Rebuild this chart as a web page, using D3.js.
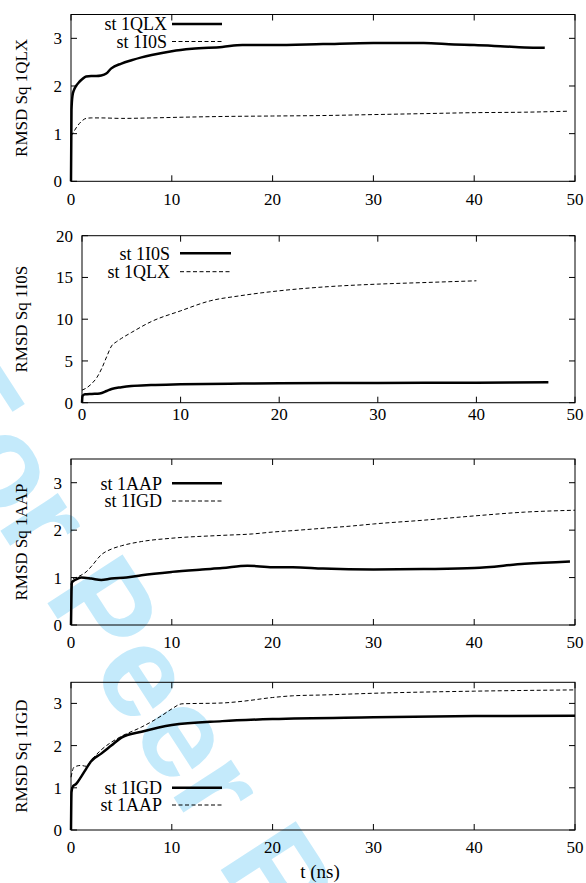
<!DOCTYPE html>
<html lang="en">
<head>
    <meta charset="UTF-8">
    <title>RMSD Sq</title>
    <script src="https://cdn.jsdelivr.net/npm/d3@7"></script>
    <style>
        body { margin: 0; background: #fff; }
        text { fill: #000; }
        .frame { fill: none; stroke: #000; stroke-width: 1px; }
        .tick { stroke: #000; stroke-width: 1px; }
        .solid { fill: none; stroke: #000; stroke-width: 2.5px; }
        .dashed { fill: none; stroke: #000; stroke-width: 1px; stroke-dasharray: 4, 2.5; }
        .wm { fill: #c4eafb; }
    </style>
</head>
<body>
<script>
    // x ticks shared by all panels
    var xTicks = [0, 10, 20, 30, 40, 50];

    // panel 1: RMSD Sq 1QLX
    var p1Labels = ["st 1QLX", "st 1I0S"];
    var p1Yticks = [0, 1, 2, 3];
    var p1SolidT = [0, 0.05, 0.15, 0.3, 0.5, 0.8, 1.1, 1.5, 2, 2.5, 3, 3.5, 4, 5, 6, 7, 8, 10, 12, 15, 17, 20, 25, 30, 33, 35, 38, 40, 43, 45, 47];
    var p1SolidV = [0, 1.5, 1.8, 1.92, 2.0, 2.08, 2.14, 2.2, 2.21, 2.21, 2.22, 2.26, 2.37, 2.47, 2.54, 2.6, 2.65, 2.73, 2.78, 2.82, 2.86, 2.86, 2.88, 2.9, 2.9, 2.9, 2.87, 2.86, 2.83, 2.81, 2.8];
    var p1DashT = [0, 0.3, 0.6, 1.0, 1.5, 2, 3, 5, 8, 10, 15, 20, 25, 30, 35, 40, 45, 49.2];
    var p1DashV = [0.95, 1.05, 1.15, 1.25, 1.32, 1.33, 1.33, 1.32, 1.33, 1.34, 1.36, 1.37, 1.38, 1.4, 1.42, 1.44, 1.45, 1.47];

    // panel 2: RMSD Sq 1I0S
    var p2Labels = ["st 1I0S", "st 1QLX"];
    var p2Yticks = [0, 5, 10, 15, 20];
    var p2SolidT = [0, 0.05, 0.3, 1, 1.8, 2.5, 3, 4, 5, 7, 10, 15, 20, 30, 40, 47.3];
    var p2SolidV = [0, 0.8, 1.0, 1.05, 1.1, 1.4, 1.64, 1.85, 2.0, 2.12, 2.2, 2.28, 2.32, 2.36, 2.4, 2.44];
    var p2DashT = [0, 0.5, 1, 1.5, 2, 2.5, 3, 3.5, 4, 5, 7, 10, 13, 16, 20, 25, 30, 35, 40];
    var p2DashV = [1.5, 1.8, 2.3, 3.0, 4.1, 5.5, 6.8, 7.3, 7.7, 8.4, 9.7, 11.0, 12.2, 12.8, 13.4, 13.9, 14.2, 14.4, 14.6];

    // panel 3: RMSD Sq 1AAP
    var p3Labels = ["st 1AAP", "st 1IGD"];
    var p3Yticks = [0, 1, 2, 3];
    var p3SolidT = [0, 0.05, 0.1, 0.5, 1, 2, 3, 4, 5.5, 7, 10, 13, 15, 17.5, 20, 22, 25, 30, 35, 40, 45, 49.5];
    var p3SolidV = [0, 0.7, 0.9, 0.96, 1.0, 0.98, 0.95, 0.98, 1.0, 1.05, 1.12, 1.17, 1.2, 1.25, 1.22, 1.22, 1.19, 1.17, 1.18, 1.2, 1.29, 1.34];
    var p3DashT = [0, 0.2, 0.5, 1, 1.5, 2, 3, 4, 5, 7, 10, 15, 18, 20, 22, 25, 28, 30, 35, 40, 45, 50];
    var p3DashV = [0.85, 0.98, 1.0, 1.05, 1.12, 1.23, 1.48, 1.6, 1.67, 1.76, 1.83, 1.89, 1.92, 1.96, 1.99, 2.04, 2.09, 2.13, 2.21, 2.3, 2.38, 2.42];

    // panel 4: RMSD Sq 1IGD
    var p4Labels = ["st 1IGD", "st 1AAP"];
    var p4Yticks = [0, 1, 2, 3];
    var p4SolidT = [0, 0.05, 0.2, 0.5, 1, 1.5, 2, 3, 4, 5, 7, 10, 15, 20, 30, 40, 50];
    var p4SolidV = [0, 0.9, 1.04, 1.09, 1.26, 1.45, 1.63, 1.81, 2.0, 2.19, 2.33, 2.49, 2.58, 2.63, 2.67, 2.7, 2.71];
    var p4DashT = [0, 0.3, 1, 1.5, 2, 3, 4, 5, 7, 9, 10, 11, 15, 17, 20, 22, 25, 30, 40, 50];
    var p4DashV = [1.25, 1.49, 1.53, 1.51, 1.65, 1.9, 2.08, 2.22, 2.44, 2.71, 2.87, 2.99, 3.01, 3.05, 3.14, 3.18, 3.2, 3.24, 3.29, 3.32];

    var width = 586;
    var height = 883;
    var serif = "'Liberation Serif', 'Times New Roman', 'DejaVu Serif', serif";

    var svg = d3.select("body")
            .append("svg")
            .attr("width", width)
            .attr("height", height)
            .attr("font-family", serif);

    // watermark behind everything
    svg.append("text")
            .attr("class", "wm")
            .attr("transform", "translate(-91,390) rotate(57)")
            .attr("font-family", "'Liberation Sans', Arial, sans-serif")
            .attr("font-weight", "bold")
            .attr("font-size", 130)
            .text("For Peer Review");

    function zip(t, v) {
        return t.map(function (d, i) { return [d, v[i]]; });
    }

    var panels = [
        {title: "RMSD Sq 1QLX", labels: p1Labels, yTicks: p1Yticks, yMax: 3.5,
            solid: zip(p1SolidT, p1SolidV), dash: zip(p1DashT, p1DashV),
            left: 71, right: 575, top: 14.5, bottom: 181.3, xlOff: 18, legX: 167, legLine: [172, 222], legY: [24, 41.5]},
        {title: "RMSD Sq 1I0S", labels: p2Labels, yTicks: p2Yticks, yMax: 20,
            solid: zip(p2SolidT, p2SolidV), dash: zip(p2DashT, p2DashV),
            left: 82, right: 575, top: 235.7, bottom: 402.7, xlOff: 11, legX: 170, legLine: [180, 231], legY: [253.3, 271.7]},
        {title: "RMSD Sq 1AAP", labels: p3Labels, yTicks: p3Yticks, yMax: 3.5,
            solid: zip(p3SolidT, p3SolidV), dash: zip(p3DashT, p3DashV),
            left: 71, right: 575, top: 459, bottom: 625, xlOff: 17, legX: 162, legLine: [172, 222], legY: [483.3, 501]},
        {title: "RMSD Sq 1IGD", labels: p4Labels, yTicks: p4Yticks, yMax: 3.5,
            solid: zip(p4SolidT, p4SolidV), dash: zip(p4DashT, p4DashV),
            left: 71, right: 575, top: 682.3, bottom: 830, xlOff: 17.5, legX: 162, legLine: [172, 222], legY: [787.7, 805]}
    ];

    var tickLen = 6;

    panels.forEach(function (p) {
        var x = d3.scaleLinear().domain([0, 50]).range([p.left, p.right]);
        var y = d3.scaleLinear().domain([0, p.yMax]).range([p.bottom, p.top]);
        var g = svg.append("g");

        var line = d3.line()
                .x(function (d) { return x(d[0]); })
                .y(function (d) { return y(d[1]); })
                .curve(d3.curveMonotoneX);

        // ticks, mirrored on all four sides
        g.selectAll(".xtb").data(xTicks).enter().append("line")
                .attr("class", "tick")
                .attr("x1", function (d) { return x(d); }).attr("x2", function (d) { return x(d); })
                .attr("y1", p.bottom).attr("y2", p.bottom - tickLen);
        g.selectAll(".xtt").data(xTicks).enter().append("line")
                .attr("class", "tick")
                .attr("x1", function (d) { return x(d); }).attr("x2", function (d) { return x(d); })
                .attr("y1", p.top).attr("y2", p.top + tickLen);
        g.selectAll(".ytl").data(p.yTicks).enter().append("line")
                .attr("class", "tick")
                .attr("x1", p.left).attr("x2", p.left + tickLen)
                .attr("y1", function (d) { return y(d); }).attr("y2", function (d) { return y(d); });
        g.selectAll(".ytr").data(p.yTicks).enter().append("line")
                .attr("class", "tick")
                .attr("x1", p.right).attr("x2", p.right - tickLen)
                .attr("y1", function (d) { return y(d); }).attr("y2", function (d) { return y(d); });

        // tick labels
        g.selectAll(".xl").data(xTicks).enter().append("text")
                .attr("x", function (d) { return x(d); })
                .attr("y", p.bottom + p.xlOff)
                .attr("dy", "0.35em")
                .attr("text-anchor", "middle")
                .attr("font-size", 17)
                .text(function (d) { return d; });
        g.selectAll(".yl").data(p.yTicks).enter().append("text")
                .attr("x", p.left - 9)
                .attr("y", function (d) { return y(d); })
                .attr("dy", "0.35em")
                .attr("text-anchor", "end")
                .attr("font-size", 17)
                .text(function (d) { return d; });

        // y axis title
        g.append("text")
                .attr("transform", "translate(21," + ((p.top + p.bottom) / 2) + ") rotate(-90)")
                .attr("dy", "0.35em")
                .attr("text-anchor", "middle")
                .attr("font-size", 17)
                .text(p.title);

        // series
        g.append("path").datum(p.dash).attr("class", "dashed").attr("d", line);
        g.append("path").datum(p.solid).attr("class", "solid").attr("d", line);

        // legend
        g.selectAll(".leg").data(p.labels).enter().append("text")
                .attr("x", p.legX)
                .attr("y", function (d, i) { return p.legY[i]; })
                .attr("dy", "0.35em")
                .attr("text-anchor", "end")
                .attr("font-size", 18)
                .text(function (d) { return d; });
        g.append("line").attr("class", "solid")
                .attr("x1", p.legLine[0]).attr("x2", p.legLine[1])
                .attr("y1", p.legY[0]).attr("y2", p.legY[0]);
        g.append("line").attr("class", "dashed")
                .attr("x1", p.legLine[0]).attr("x2", p.legLine[1])
                .attr("y1", p.legY[1]).attr("y2", p.legY[1]);

        // frame
        g.append("rect").attr("class", "frame")
                .attr("x", p.left).attr("y", p.top)
                .attr("width", p.right - p.left).attr("height", p.bottom - p.top);
    });

    svg.append("text")
            .attr("x", 320)
            .attr("y", 878)
            .attr("text-anchor", "middle")
            .attr("font-size", 19)
            .text("t (ns)");
</script>
</body>
</html>
